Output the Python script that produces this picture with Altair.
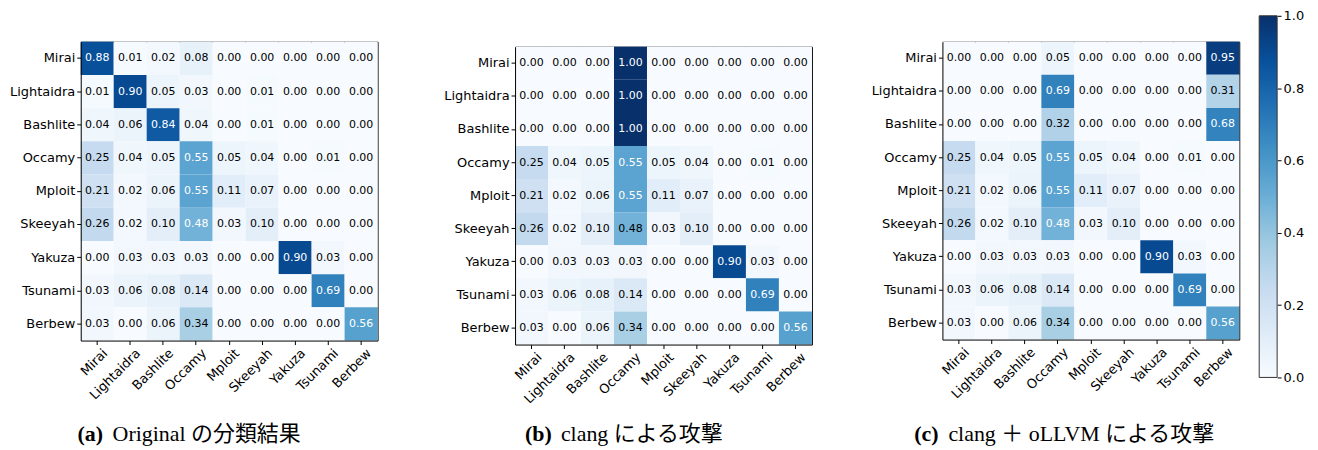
import altair as alt
import pandas as pd

labels = ["Mirai", "Lightaidra", "Bashlite", "Occamy", "Mploit",
          "Skeeyah", "Yakuza", "Tsunami", "Berbew"]

matrix_a = [
    [0.88, 0.01, 0.02, 0.08, 0.00, 0.00, 0.00, 0.00, 0.00],
    [0.01, 0.90, 0.05, 0.03, 0.00, 0.01, 0.00, 0.00, 0.00],
    [0.04, 0.06, 0.84, 0.04, 0.00, 0.01, 0.00, 0.00, 0.00],
    [0.25, 0.04, 0.05, 0.55, 0.05, 0.04, 0.00, 0.01, 0.00],
    [0.21, 0.02, 0.06, 0.55, 0.11, 0.07, 0.00, 0.00, 0.00],
    [0.26, 0.02, 0.10, 0.48, 0.03, 0.10, 0.00, 0.00, 0.00],
    [0.00, 0.03, 0.03, 0.03, 0.00, 0.00, 0.90, 0.03, 0.00],
    [0.03, 0.06, 0.08, 0.14, 0.00, 0.00, 0.00, 0.69, 0.00],
    [0.03, 0.00, 0.06, 0.34, 0.00, 0.00, 0.00, 0.00, 0.56],
]

matrix_b = [
    [0.00, 0.00, 0.00, 1.00, 0.00, 0.00, 0.00, 0.00, 0.00],
    [0.00, 0.00, 0.00, 1.00, 0.00, 0.00, 0.00, 0.00, 0.00],
    [0.00, 0.00, 0.00, 1.00, 0.00, 0.00, 0.00, 0.00, 0.00],
    [0.25, 0.04, 0.05, 0.55, 0.05, 0.04, 0.00, 0.01, 0.00],
    [0.21, 0.02, 0.06, 0.55, 0.11, 0.07, 0.00, 0.00, 0.00],
    [0.26, 0.02, 0.10, 0.48, 0.03, 0.10, 0.00, 0.00, 0.00],
    [0.00, 0.03, 0.03, 0.03, 0.00, 0.00, 0.90, 0.03, 0.00],
    [0.03, 0.06, 0.08, 0.14, 0.00, 0.00, 0.00, 0.69, 0.00],
    [0.03, 0.00, 0.06, 0.34, 0.00, 0.00, 0.00, 0.00, 0.56],
]

matrix_c = [
    [0.00, 0.00, 0.00, 0.05, 0.00, 0.00, 0.00, 0.00, 0.95],
    [0.00, 0.00, 0.00, 0.69, 0.00, 0.00, 0.00, 0.00, 0.31],
    [0.00, 0.00, 0.00, 0.32, 0.00, 0.00, 0.00, 0.00, 0.68],
    [0.25, 0.04, 0.05, 0.55, 0.05, 0.04, 0.00, 0.01, 0.00],
    [0.21, 0.02, 0.06, 0.55, 0.11, 0.07, 0.00, 0.00, 0.00],
    [0.26, 0.02, 0.10, 0.48, 0.03, 0.10, 0.00, 0.00, 0.00],
    [0.00, 0.03, 0.03, 0.03, 0.00, 0.00, 0.90, 0.03, 0.00],
    [0.03, 0.06, 0.08, 0.14, 0.00, 0.00, 0.00, 0.69, 0.00],
    [0.03, 0.00, 0.06, 0.34, 0.00, 0.00, 0.00, 0.00, 0.56],
]

captions = [
    ("(a)", "Original の分類結果"),
    ("(b)", "clang による攻撃"),
    ("(c)", "clang ＋ oLLVM による攻撃"),
]

colorbar_ticks = [0.0, 0.2, 0.4, 0.6, 0.8, 1.0]

# matplotlib "Blues" anchor colours
blues = ["#f7fbff", "#deebf7", "#c6dbef", "#9ecae1", "#6baed6",
         "#4292c6", "#2171b5", "#08519c", "#08306b"]
blue_stops = [i / 8 for i in range(9)]

SANS = "DejaVu Sans"
SERIF = "'Liberation Serif', 'Noto Sans CJK JP'"
LBL = 13

cscale = alt.Scale(domain=blue_stops, range=blues, interpolate="rgb", type="linear")


def long_df(mat):
    rows = []
    for i, r in enumerate(labels):
        for j, c in enumerate(labels):
            rows.append({"row": r, "col": c, "v": mat[i][j]})
    return pd.DataFrame(rows)


def panel(mat, cap, w, h, off, cap_cx, cap_x, cap_y):
    df = long_df(mat)
    thr = max(max(r) for r in mat) / 2.0
    xs = alt.Scale(paddingInner=0, paddingOuter=0)
    ys = alt.Scale(range=[off, off + h], paddingInner=0, paddingOuter=0)
    cells = alt.Chart(df).mark_rect().encode(
        x=alt.X("col:N", sort=labels, scale=xs, title=None,
                axis=alt.Axis(orient="bottom", labelAngle=-45, labelAlign="right",
                              labelBaseline="top", labelFont=SANS, labelFontSize=LBL,
                              labelColor="black", tickSize=4, tickColor="black",
                              tickWidth=1, labelPadding=2, labelOffset=4,
                              domainColor="black", domainWidth=1)),
        y=alt.Y("row:N", sort=labels, scale=ys, title=None,
                axis=alt.Axis(orient="left", labelFont=SANS, labelFontSize=LBL,
                              labelColor="black", tickSize=4, tickColor="black",
                              tickWidth=1, labelPadding=2, domainColor="black",
                              domainWidth=1)),
        color=alt.Color("v:Q", scale=cscale, legend=None),
    )
    top_axis = dict(orient="top", labels=False, ticks=False,
                    domainColor="black", domainWidth=1)
    if off:
        top_axis["offset"] = -off
    txt = alt.Chart(df).mark_text(font=SANS, fontSize=11).encode(
        x=alt.X("col:N", sort=labels, scale=xs, title=None, axis=alt.Axis(**top_axis)),
        y=alt.Y("row:N", sort=labels, scale=ys, title=None,
                axis=alt.Axis(orient="right", labels=False, ticks=False,
                              domainColor="black", domainWidth=1)),
        text=alt.Text("v:Q", format=".2f"),
        color=alt.condition(f"datum.v > {thr}", alt.value("white"), alt.value("black")),
    )
    one = pd.DataFrame({"k": [0]})
    c1 = alt.Chart(one).mark_text(text=cap[0], font=SERIF, fontWeight="bold",
                                  fontSize=22, align="center",
                                  baseline="middle", color="black").encode(
        x=alt.value(cap_cx), y=alt.value(cap_y))
    c2 = alt.Chart(one).mark_text(text=cap[1], font=SERIF, fontSize=22,
                                  align="left", baseline="middle",
                                  color="black").encode(
        x=alt.value(cap_x), y=alt.value(cap_y))
    return (alt.layer(cells, txt, c1, c2)
            .resolve_axis(x="independent", y="independent")
            .properties(width=w, height=off + h))


def spacer(w):
    return alt.Chart(pd.DataFrame({"k": [0]})).mark_point(opacity=0).encode(
        x=alt.value(0), y=alt.value(0)).properties(width=w, height=1)


pa = panel(matrix_a, captions[0], 298, 300, 0, 9.5, 32, 394)
pb = panel(matrix_b, captions[1], 298, 299, 5, 23.5, 46, 394)
pc = panel(matrix_c, captions[2], 298, 299, 0, -16, 6, 394)

grad = alt.Gradient(
    gradient="linear",
    stops=[alt.GradientStop(color=c, offset=o) for c, o in zip(blues, blue_stops)],
    x1=0, x2=0, y1=1, y2=0)

cb_df = pd.DataFrame({"k": ["cb"], "lo": [colorbar_ticks[0]], "hi": [colorbar_ticks[-1]]})
colorbar = alt.Chart(cb_df).mark_rect(fill=grad, stroke="#333333", strokeWidth=1).encode(
    x=alt.X("k:N", axis=None, scale=alt.Scale(paddingInner=0, paddingOuter=0)),
    y=alt.Y("lo:Q", scale=alt.Scale(domain=[0, 1], range=[337, -26], nice=False, zero=False),
            axis=alt.Axis(orient="right", values=colorbar_ticks, format=".1f", title=None,
                          grid=False, domain=False, tickSize=4, tickColor="black",
                          tickWidth=1, labelFont=SANS, labelFontSize=LBL,
                          labelColor="black", labelPadding=2, labelFlush=False)),
    y2="hi:Q",
).properties(width=18, height=299)

chart = alt.hconcat(pa, spacer(138), pb, spacer(131), pc, spacer(19.5), colorbar,
                    spacing=0, bounds="flush").properties(
    padding={"left": 0, "top": 0, "right": 5, "bottom": 0},
    background="white",
).configure_view(stroke="transparent")

chart.save("out.html", embed_options={"renderer": "svg", "actions": False})
